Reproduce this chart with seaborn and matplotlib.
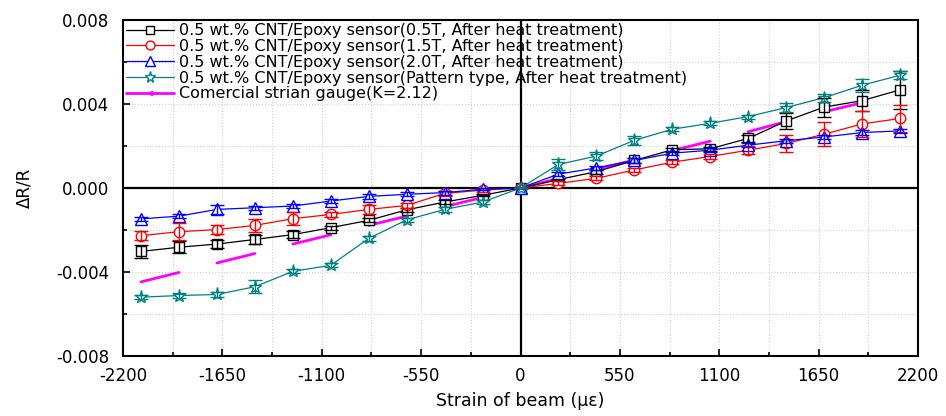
import matplotlib
matplotlib.use("Agg")
import matplotlib.pyplot as plt
from matplotlib.lines import Line2D
from matplotlib.ticker import MultipleLocator, FormatStrFormatter
import seaborn as sns

# =============================================================================
# 1. DATA
# =============================================================================
strain = [-2100, -1890, -1680, -1470, -1260, -1050, -840, -630, -420, -210, 0,
          210, 420, 630, 840, 1050, 1260, 1470, 1680, 1890, 2100]

dr_05t = [-0.00302, -0.00282, -0.00267, -0.00245, -0.00222, -0.00189, -0.00154, -0.00104, -0.00067, -0.00035, 0.0,
          0.00040, 0.00078, 0.00131, 0.00182, 0.00187, 0.00236, 0.00319, 0.00385, 0.00416, 0.00467]
err_05t = [0.0003, 0.00028, 0.0002, 0.0002, 0.00015, 0.0001, 0.0001, 0.0001, 0.0001, 0.00005, 0.0,
           0.00005, 0.0001, 0.0001, 0.0001, 0.0001, 0.00015, 0.0004, 0.00045, 0.0005, 0.0009]

dr_15t = [-0.00227, -0.00208, -0.00198, -0.00178, -0.00146, -0.00126, -0.00102, -0.00083, -0.00026, -0.0001, 0.0,
          0.00022, 0.00046, 0.00086, 0.00123, 0.00150, 0.00180, 0.00212, 0.00256, 0.00305, 0.00331]
err_15t = [0.0002, 0.0004, 0.0002, 0.0003, 0.0003, 0.0001, 0.0002, 0.0001, 0.0001, 0.0001, 0.0,
           0.0001, 0.0001, 0.0001, 0.0001, 0.0001, 0.0002, 0.0004, 0.00058, 0.0006, 0.00064]

dr_20t = [-0.00147, -0.00134, -0.00102, -0.00094, -0.00086, -0.00062, -0.0004, -0.0003, -0.00022, -0.00006, 0.0,
          0.00066, 0.00096, 0.00131, 0.00166, 0.00180, 0.00204, 0.00225, 0.00243, 0.00264, 0.00272]
err_20t = [0.0001, 0.0001, 0.0002, 0.0001, 0.0001, 0.0001, 0.0001, 0.0001, 0.0001, 0.00005, 0.0,
           0.0001, 0.0001, 0.0001, 0.0001, 0.0001, 0.0001, 0.0001, 0.0001, 0.0001, 0.0001]

dr_pattern = [-0.0052, -0.00512, -0.00507, -0.0047, -0.00397, -0.00368, -0.0024, -0.00152, -0.00102, -0.00067, 0.0,
              0.00112, 0.00152, 0.00227, 0.0028, 0.00308, 0.0034, 0.00383, 0.0043, 0.00489, 0.00537]
err_pattern = [0.0001, 0.0001, 0.0001, 0.0003, 0.0001, 0.0001, 0.0001, 0.0001, 0.0001, 0.0001, 0.0,
               0.00025, 0.0002, 0.0002, 0.0001, 0.0001, 0.0001, 0.0002, 0.0002, 0.0003, 0.0002]

dr_gauge = [-0.00447, -0.00402, -0.00357, -0.00312, -0.00267, -0.00223, -0.00178, -0.00134, -0.00089, -0.00045, 0.0,
            0.00045, 0.00089, 0.00133, 0.00178, 0.00223, 0.00268, 0.00316, 0.00363, 0.00406, 0.00445]

labels = [
    "0.5 wt.% CNT/Epoxy sensor(0.5T, After heat treatment)",
    "0.5 wt.% CNT/Epoxy sensor(1.5T, After heat treatment)",
    "0.5 wt.% CNT/Epoxy sensor(2.0T, After heat treatment)",
    "0.5 wt.% CNT/Epoxy sensor(Pattern type, After heat treatment)",
    "Comercial strian gauge(K=2.12)",
]

# =============================================================================
# 2. STYLE
# =============================================================================
sns.set_style("ticks")
plt.rcParams['font.family'] = ['DejaVu Sans']
plt.rcParams['axes.unicode_minus'] = False
for key in ['text.color', 'axes.labelcolor', 'xtick.color', 'ytick.color']:
    plt.rcParams[key] = 'black'

series = [
    (dr_05t, err_05t, "#000000", "s", 7),
    (dr_15t, err_15t, "#ff0000", "o", 7.5),
    (dr_20t, err_20t, "#0000ff", "^", 8),
    (dr_pattern, err_pattern, "#008080", "*", 9.5),
]
gauge_color = "#ff00ff"

fig = plt.figure(figsize=(9.46, 4.16), dpi=100)
ax = fig.add_axes([123 / 946, 1 - 356 / 416, (918 - 123) / 946, (356 - 20) / 416])

# =============================================================================
# 3. PLOTTING
# =============================================================================
ax.axhline(0, color="black", lw=1.6, zorder=2)
ax.axvline(0, color="black", lw=1.6, zorder=2)

# commercial gauge drawn as alternating segments
for i in range(0, len(strain) - 1, 2):
    ax.plot(strain[i:i + 2], dr_gauge[i:i + 2], color=gauge_color, lw=2, zorder=2.5)

handles = []
for (vals, errs, color, marker, ms), lab in zip(series, labels):
    sns.lineplot(x=strain, y=vals, ax=ax, color=color, marker=marker, markersize=ms,
                 markerfacecolor="white", markeredgecolor=color, markeredgewidth=1.0,
                 linewidth=0.9, errorbar=None, zorder=3)
    ax.errorbar(strain, vals, yerr=errs, fmt="none", ecolor=color, elinewidth=1.0,
                capsize=5, capthick=1.0, zorder=3.5)
    handles.append(Line2D([], [], color=color, lw=0.9, marker=marker, markersize=ms * 0.85,
                          markerfacecolor="white", markeredgecolor=color, label=lab))
handles.append(Line2D([], [], color=gauge_color, lw=2, marker="<", markersize=3,
                      label=labels[4]))

ax.set_xlim(-2200, 2200)
ax.set_ylim(-0.008, 0.008)
ax.xaxis.set_major_locator(MultipleLocator(550))
ax.xaxis.set_minor_locator(MultipleLocator(275))
ax.yaxis.set_major_locator(MultipleLocator(0.004))
ax.yaxis.set_minor_locator(MultipleLocator(0.002))
ax.yaxis.set_major_formatter(FormatStrFormatter("%.3f"))
ax.xaxis.set_major_formatter(FormatStrFormatter("%d"))

ax.grid(True, which="both", color="#d0d0d0", linestyle=":", linewidth=0.8)
ax.set_axisbelow(True)
ax.tick_params(which="both", direction="in", labelsize=12, width=1.2, colors="black")
ax.tick_params(which="major", length=5)
ax.tick_params(which="minor", length=3)
ax.tick_params(axis="x", pad=8)
ax.tick_params(axis="y", pad=10)
for sp in ax.spines.values():
    sp.set_linewidth(1.5)
    sp.set_color("black")

ax.set_xlabel("Strain of beam (\u03bc\u03b5)", fontsize=12.5, labelpad=5)
ax.set_ylabel("\u0394R/R", fontsize=12, labelpad=16)

ax.legend(handles=handles, loc="upper left", frameon=False, fontsize=11.5,
          handlelength=3.0, handletextpad=0.3, labelspacing=0.05,
          borderaxespad=0.05, borderpad=0.15)

plt.savefig("out.png", dpi=100)
plt.close(fig)
